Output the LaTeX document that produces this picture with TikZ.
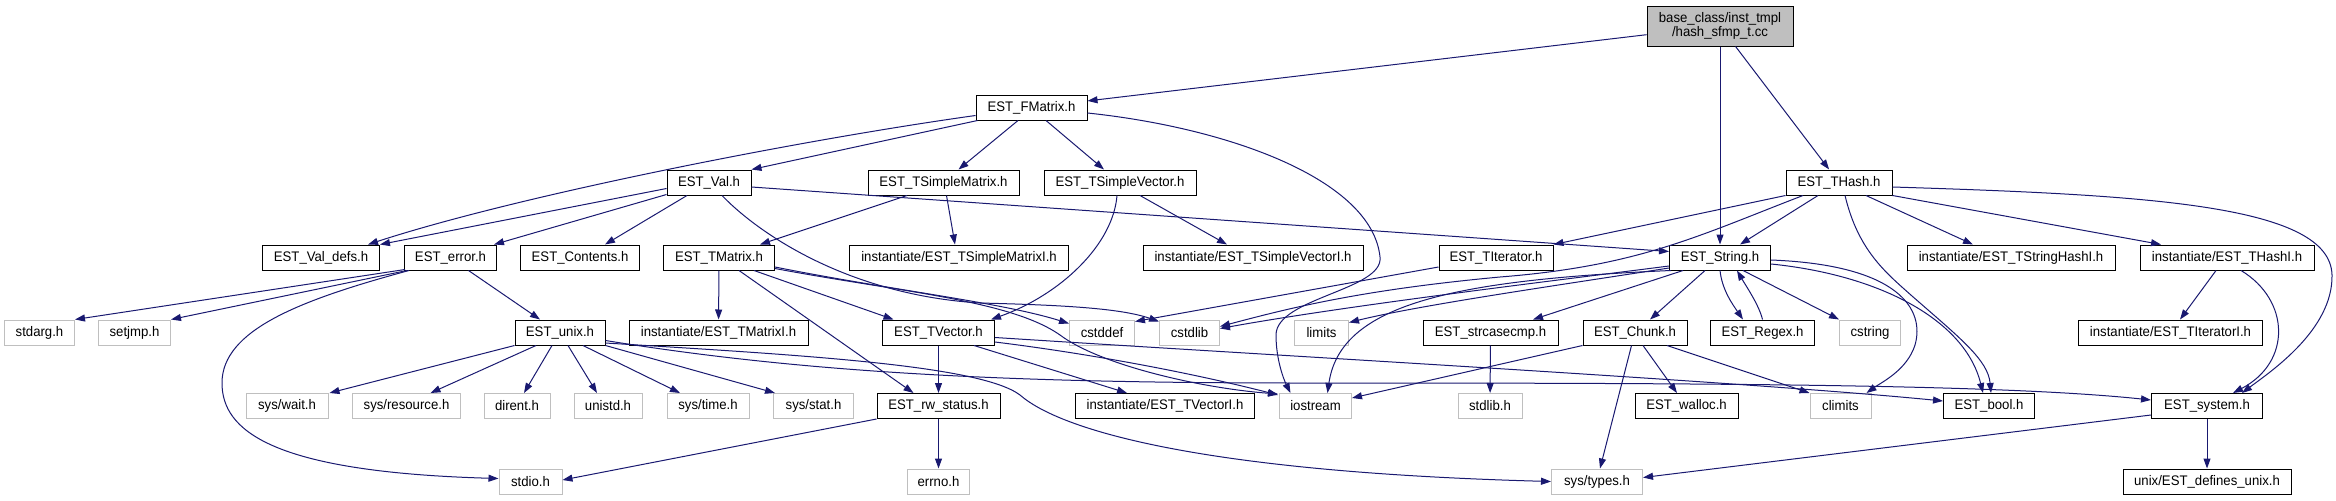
\documentclass[tikz,border=0pt]{standalone}
\usepackage{fontspec}
\setmainfont{Liberation Sans}[FakeStretch=0.95]
\usetikzlibrary{arrows.meta,calc}
\definecolor{edgeblue}{RGB}{25,25,112}
\definecolor{grayB}{RGB}{191,191,191}
\newcommand\mknode[6]{\node[#1, minimum width=#5*0.75pt] (#2) at (#3,#4) {#6};}
\begin{document}
\begin{tikzpicture}[x=0.75pt,y=-0.75pt,
  box/.style={draw=black,line width=0.75pt,fill=white,minimum height=25*0.75pt,inner sep=0pt,font=\fontsize{10.4}{12}\selectfont},
  gbox/.style={box,draw=grayB},
  lnk/.style={draw=edgeblue,line width=0.75pt,-{Triangle[length=7.5pt,width=5.25pt]}}]
\useasboundingbox (0,0) rectangle (2336,500);
% nodes
\node[box,fill=grayB,minimum width=146*0.75pt,minimum height=40*0.75pt,align=center,font=\fontsize{10.4}{10.5}\selectfont] (top) at (1720,26) {base\_class/inst\_tmpl\\/hash\_sfmp\_t.cc};
\mknode{box}{fm}{1031.5}{107.5}{111}{EST\_FMatrix.h}
\mknode{box}{val}{709}{182.5}{84}{EST\_Val.h}
\mknode{box}{tsm}{943.5}{182.5}{151}{EST\_TSimpleMatrix.h}
\mknode{box}{tsv}{1120}{182.5}{152}{EST\_TSimpleVector.h}
\mknode{box}{thash}{1839}{182.5}{106}{EST\_THash.h}
\mknode{box}{vdefs}{321}{257.5}{117}{EST\_Val\_defs.h}
\mknode{box}{err}{450.5}{257.5}{92}{EST\_error.h}
\mknode{box}{cont}{580}{257.5}{119}{EST\_Contents.h}
\mknode{box}{tmat}{719}{257.5}{111}{EST\_TMatrix.h}
\mknode{box}{tsmi}{959}{257.5}{219}{instantiate/EST\_TSimpleMatrixI.h}
\mknode{box}{tsvi}{1253}{257.5}{220}{instantiate/EST\_TSimpleVectorI.h}
\mknode{box}{titer}{1496}{257.5}{114}{EST\_TIterator.h}
\mknode{box}{str}{1720}{257.5}{101}{EST\_String.h}
\mknode{box}{tshi}{2011}{257.5}{208}{instantiate/EST\_TStringHashI.h}
\mknode{box}{thi}{2227}{257.5}{174}{instantiate/EST\_THashI.h}
\mknode{gbox}{stdarg}{39.5}{332.5}{70}{stdarg.h}
\mknode{gbox}{setjmp}{134.5}{332.5}{72}{setjmp.h}
\mknode{box}{unix}{560}{332.5}{90}{EST\_unix.h}
\mknode{box}{tmi}{718.5}{332.5}{179}{instantiate/EST\_TMatrixI.h}
\mknode{box}{tvec}{938.5}{332.5}{112}{EST\_TVector.h}
\mknode{gbox}{cstddef}{1102}{332.5}{65}{cstddef}
\mknode{gbox}{cstdlib}{1189.5}{332.5}{60}{cstdlib}
\mknode{gbox}{limits}{1321.5}{332.5}{54}{limits}
\mknode{box}{strcase}{1490.5}{332.5}{135}{EST\_strcasecmp.h}
\mknode{box}{chunk}{1635}{332.5}{104}{EST\_Chunk.h}
\mknode{box}{regex}{1762.5}{332.5}{104}{EST\_Regex.h}
\mknode{gbox}{cstring}{1870}{332.5}{61}{cstring}
\mknode{box}{titi}{2170.5}{332.5}{184}{instantiate/EST\_TIteratorI.h}
\mknode{gbox}{syswait}{287}{406}{82}{sys/wait.h}
\mknode{gbox}{sysres}{406.5}{406}{108}{sys/resource.h}
\mknode{gbox}{dirent}{517}{406}{66}{dirent.h}
\mknode{gbox}{unistd}{608}{406}{68}{unistd.h}
\mknode{gbox}{systime}{708}{406}{82}{sys/time.h}
\mknode{gbox}{sysstat}{813.5}{406}{80}{sys/stat.h}
\mknode{box}{rw}{938.5}{406}{123}{EST\_rw\_status.h}
\mknode{box}{tvi}{1165}{406}{179}{instantiate/EST\_TVectorI.h}
\mknode{gbox}{iostream}{1315.5}{406}{72}{iostream}
\mknode{gbox}{stdlibh}{1490}{406}{64}{stdlib.h}
\mknode{box}{walloc}{1686.5}{406}{103}{EST\_walloc.h}
\mknode{gbox}{climits}{1840.5}{406}{61}{climits}
\mknode{box}{bool}{1989}{406}{91}{EST\_bool.h}
\mknode{box}{system}{2207}{406}{111}{EST\_system.h}
\mknode{gbox}{stdio}{530.5}{481.5}{63}{stdio.h}
\mknode{gbox}{errno}{938.5}{481.5}{62}{errno.h}
\mknode{gbox}{systypes}{1597}{481.5}{91}{sys/types.h}
\mknode{box}{defunix}{2207}{481.5}{168}{unix/EST\_defines\_unix.h}
% edges from top
\draw[lnk] (top) -- (fm);
\draw[lnk] (top) -- (str);
\draw[lnk] (top) -- (thash);
% fm
\draw[lnk] ($(fm.west)+(0,8)$) .. controls (800,140) and (520,195) .. ($(vdefs.north east)+(-12,0)$);
\draw[lnk] ($(fm.south west)+(2,0)$) -- (val.north east);
\draw[lnk] ($(fm.south)+(-13.5,0)$) -- ($(tsm.north)+(15,0)$);
\draw[lnk] ($(fm.south)+(14.5,0)$) -- ($(tsv.north)+(-16,0)$);
\draw[lnk] ($(fm.east)+(0,5.5)$) .. controls (1230,128) and (1372,180) .. (1380,257) .. controls (1384,290) and (1276,298) .. (1276,335) .. controls (1276,360) and (1284,380) .. ($(iostream.north)+(-25,0)$);
% val
\draw[lnk] ($(val.west)+(0,6)$) -- (vdefs.north east);
\draw[lnk] ($(val.south west)+(0,-1)$) -- ($(err.north east)+(-3,0)$);
\draw[lnk] ($(val.south)+(-22,0)$) -- ($(cont.north)+(25,0)$);
\draw[lnk] ($(val.east)+(0,4.5)$) -- ($(str.west)+(0,-6)$);
\draw[lnk] ($(val.south)+(13,0)$) .. controls (760,235) and (850,295) .. (980,303) .. controls (1060,305) and (1120,308) .. ($(cstdlib.north west)+(0,2)$);
% tsm, tsv
\draw[lnk] ($(tsm.south)+(-36.5,0)$) -- ($(tmat.north)+(41,0)$);
\draw[lnk] ($(tsm.south)+(3,0)$) -- ($(tsmi.north)+(-4,0)$);
\draw[lnk] ($(tsv.south)+(-3,0)$) .. controls (1113,245) and (1060,295) .. ($(tvec.north east)+(-4,0)$);
\draw[lnk] ($(tsv.south)+(20,0)$) -- ($(tsvi.north)+(-26,0)$);
% tmat
\draw[lnk] (tmat) -- (tmi);
\draw[lnk] ($(tmat.south)+(35,0)$) -- ($(tvec.north)+(-45,0)$);
\draw[lnk] ($(tmat.south)+(20,0)$) -- ($(rw.north)+(-25,0)$);
\draw[lnk] ($(tmat.east)+(0,9.5)$) .. controls (890,290) and (1000,302) .. ($(cstddef.west)+(0,-9)$);
\draw[lnk] ($(tmat.east)+(0,11)$) .. controls (900,292) and (1010,300) .. (1060,335) .. controls (1100,365) and (1200,388) .. ($(iostream.north west)+(-1,1)$);
% tvec
\draw[lnk] (tvec) -- (rw);
\draw[lnk] ($(tvec.south)+(35.5,0)$) -- ($(tvi.north)+(-38,0)$);
\draw[lnk] ($(tvec.east)+(0,9.5)$) .. controls (1100,355) and (1200,375) .. ($(iostream.north west)+(-1,2)$);
\draw[lnk] ($(tvec.east)+(0,5)$) .. controls (1300,357) and (1750,382) .. ($(bool.west)+(0,-5)$);
% err
\draw[lnk] ($(err.south west)+(1,-1)$) -- (stdarg.north east);
\draw[lnk] ($(err.south west)+(3,0)$) -- (setjmp.north east);
\draw[lnk] ($(err.south west)+(5,0)$) .. controls (300,300) and (222,330) .. (222,383) .. controls (222,430) and (270,472) .. ($(stdio.west)+(0,-3)$);
\draw[lnk] ($(err.south)+(18,0)$) -- ($(unix.north)+(-20,0)$);
% unix
\draw[lnk] (unix.south west) -- ($(syswait.north east)+(1,0)$);
\draw[lnk] ($(unix.south)+(-24,0)$) -- ($(sysres.north)+(24,0)$);
\draw[lnk] ($(unix.south)+(-8,0)$) -- ($(dirent.north)+(7,0)$);
\draw[lnk] ($(unix.south)+(8,0)$) -- ($(unistd.north)+(-11,0)$);
\draw[lnk] ($(unix.south)+(23,0)$) -- ($(systime.north)+(-28,0)$);
\draw[lnk] (unix.south east) -- ($(sysstat.north west)+(2,0)$);
\draw[lnk] ($(unix.east)+(0,8)$) .. controls (800,372) and (1000,383) .. (1300,383) .. controls (1700,383) and (2000,384) .. ($(system.west)+(0,-6)$);
\draw[lnk] ($(unix.east)+(0,10.5)$) .. controls (800,355) and (980,365) .. (1020,395) .. controls (1060,430) and (1200,472) .. (systypes.west);
% rw
\draw[lnk] (rw.south west) -- ($(stdio.east)+(0,-1.5)$);
\draw[lnk] (rw) -- (errno);
% thash
\draw[lnk] (thash.south west) -- (titer.north east);
\draw[lnk] ($(thash.south)+(-36,0)$) .. controls (1700,235) and (1640,266) .. (1500,277) .. controls (1360,290) and (1290,308) .. ($(cstdlib.east)+(0,-6)$);
\draw[lnk] ($(thash.south)+(-21,0)$) -- ($(str.north)+(20,0)$);
\draw[lnk] ($(thash.south)+(6,0)$) .. controls (1858,250) and (1885,272) .. (1912,296) .. controls (1960,338) and (1988,360) .. ($(bool.north)+(2,0)$);
\draw[lnk] ($(thash.south)+(27,0)$) -- ($(tshi.north)+(-38,0)$);
\draw[lnk] (thash.south east) -- ($(thi.north)+(-66,0)$);
\draw[lnk] ($(thash.east)+(0,4.5)$) .. controls (2150,195) and (2330,205) .. (2332,275) .. controls (2333,330) and (2270,372) .. ($(system.north east)+(-21,0)$);
% str
\draw[lnk] ($(str.west)+(0,8.5)$) .. controls (1560,280) and (1350,305) .. ($(cstdlib.east)+(0,-4)$);
\draw[lnk] ($(str.west)+(0,10.5)$) .. controls (1560,285) and (1420,305) .. ($(limits.north east)+(0,3)$);
\draw[lnk] ($(str.south west)+(2,0)$) .. controls (1450,280) and (1340,305) .. ($(iostream.north)+(12,0)$);
\draw[lnk] ($(str.south)+(-37,0)$) -- ($(strcase.north)+(42.5,0)$);
\draw[lnk] ($(str.south)+(-15,0)$) -- ($(chunk.north)+(15,0)$);
\draw[lnk] (str.south) .. controls (1722,290) and (1733,305) .. ($(regex.north)+(-19.5,0)$);
\draw[lnk] (regex.north) .. controls (1759,305) and (1746,286) .. ($(str.south)+(17,0)$);
\draw[lnk] ($(str.south)+(23,0)$) -- (cstring.north west);
\draw[lnk] ($(str.east)+(0,2.5)$) .. controls (1900,265) and (1925,310) .. (1915,345) .. controls (1907,370) and (1882,382) .. ($(climits.north)+(26,0)$);
\draw[lnk] ($(str.east)+(0,6.5)$) .. controls (1880,275) and (1965,320) .. ($(bool.north)+(-6,0)$);
\draw[lnk] (strcase) -- (stdlibh);
% chunk
\draw[lnk] (chunk.south west) -- ($(iostream.east)+(0,-8)$);
\draw[lnk] ($(chunk.south)+(-3.5,0)$) -- ($(systypes.north)+(3,0)$);
\draw[lnk] ($(chunk.south)+(8,0)$) -- ($(walloc.north)+(-9.5,0)$);
\draw[lnk] ($(chunk.south)+(32,0)$) -- (climits.north west);
% thi
\draw[lnk] ($(thi.south)+(-11,0)$) -- ($(titi.north)+(9.5,0)$);
\draw[lnk] ($(thi.south)+(14,0)$) .. controls (2290,300) and (2292,362) .. ($(system.north)+(26,0)$);
% system
\draw[lnk] (system) -- (defunix);
\draw[lnk] ($(system.south west)+(0,-4)$) -- ($(systypes.east)+(0,-4)$);
% titer
\draw[lnk] ($(titer.west)+(0,9.5)$) -- ($(cstddef.north east)+(0,2)$);
\end{tikzpicture}
\end{document}
